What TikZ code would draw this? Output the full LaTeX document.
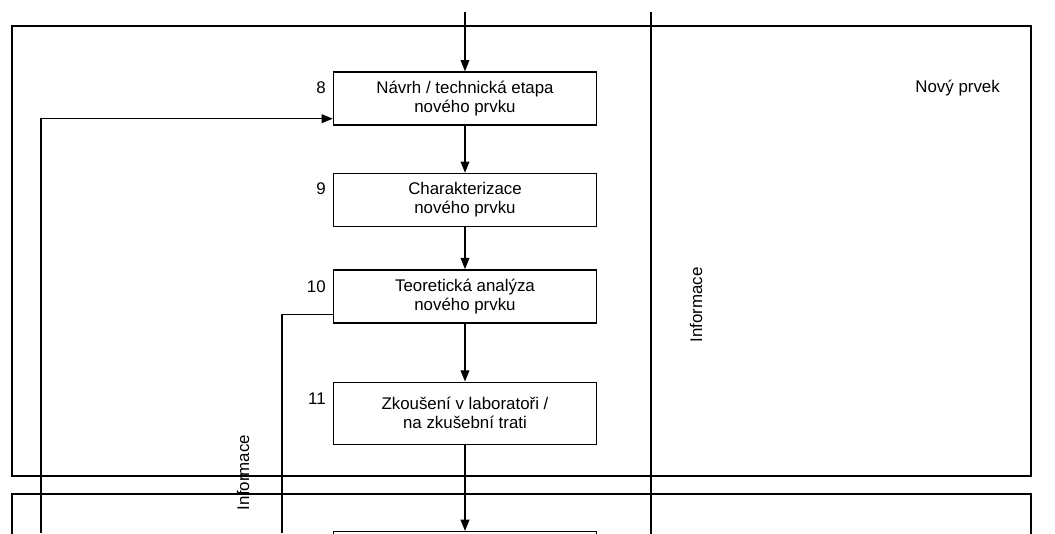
\documentclass[tikz,border=0pt]{standalone}
\usepackage{fontspec}
\setmainfont{Liberation Sans}
\usetikzlibrary{positioning,arrows.meta}

\tikzset{
  stage/.style={draw, line width=1pt, minimum width=6.575cm, minimum height=1.325cm,
    align=center, inner sep=0pt, font=\fontsize{12}{13.5}\selectfont},
  stepno/.style={anchor=east, inner sep=0pt, font=\fontsize{12}{13}\selectfont},
  flow/.style={line width=0.8pt, -{Triangle[length=0.28cm,width=0.22cm]}},
  frame/.style={line width=1pt},
  infotext/.style={font=\fontsize{12}{13}\selectfont}
}

\begin{document}
\begin{tikzpicture}
\useasboundingbox (0,0) rectangle (26.375,13.325);
\clip (0,0) rectangle (26.375,13.325);

% the two lanes and the divider
\draw[frame] (0.3,1.425) rectangle (25.775,12.675);
\draw[frame] (0.3,-1) rectangle (25.775,0.975);
\draw[frame] (16.275,13.025) -- (16.275,-1);

% stages
\node[stage] (n8) at (11.625,10.8625) {Návrh / technická etapa\\nového prvku};
\node[stage, below=1.175cm of n8] (n9) {Charakterizace\\nového prvku};
\node[stage, below=1.05cm of n9] (n10) {Teoretická analýza\\nového prvku};
\node[stage, minimum height=1.55cm, below=1.45cm of n10] (n11) {Zkoušení v laboratoři /\\na zkušební trati};
\node[stage, minimum height=1.55cm, below=2.15cm of n11] (n12) {};

\node[stepno] (l8) at ([xshift=-0.17cm,yshift=-0.41cm]n8.north west) {8};
\node[stepno] (l9) at ([xshift=-0.17cm,yshift=-0.41cm]n9.north west) {9};
\node[stepno] (l10) at ([xshift=-0.17cm,yshift=-0.45cm]n10.north west) {10};
\node[stepno] (l11) at ([xshift=-0.17cm,yshift=-0.43cm]n11.north west) {11};

% flow
\coordinate (in) at (11.625,13.025);
\draw[flow] (in) -- (n8);
\draw[flow] (n8) -- (n9);
\draw[flow] (n9) -- (n10);
\draw[flow] (n10) -- (n11);
\draw[flow] (n11) -- (n12);

% feedback and information lines
\coordinate (loopstart) at (1.025,0);
\draw[flow] (loopstart) |- ([yshift=0.175cm]n8.south west);
\coordinate (infoend) at (7.05,0);
\draw[line width=0.8pt] ([yshift=0.225cm]n10.south west) -| (infoend);

% texts
\node[infotext, rotate=90] (info1) at (6.075,1.5125) {Informace};
\node[infotext, rotate=90] (info2) at (17.4,5.7) {Informace};
\node[infotext] (novy) at (23.94,11.125) {Nový prvek};
\end{tikzpicture}
\end{document}
